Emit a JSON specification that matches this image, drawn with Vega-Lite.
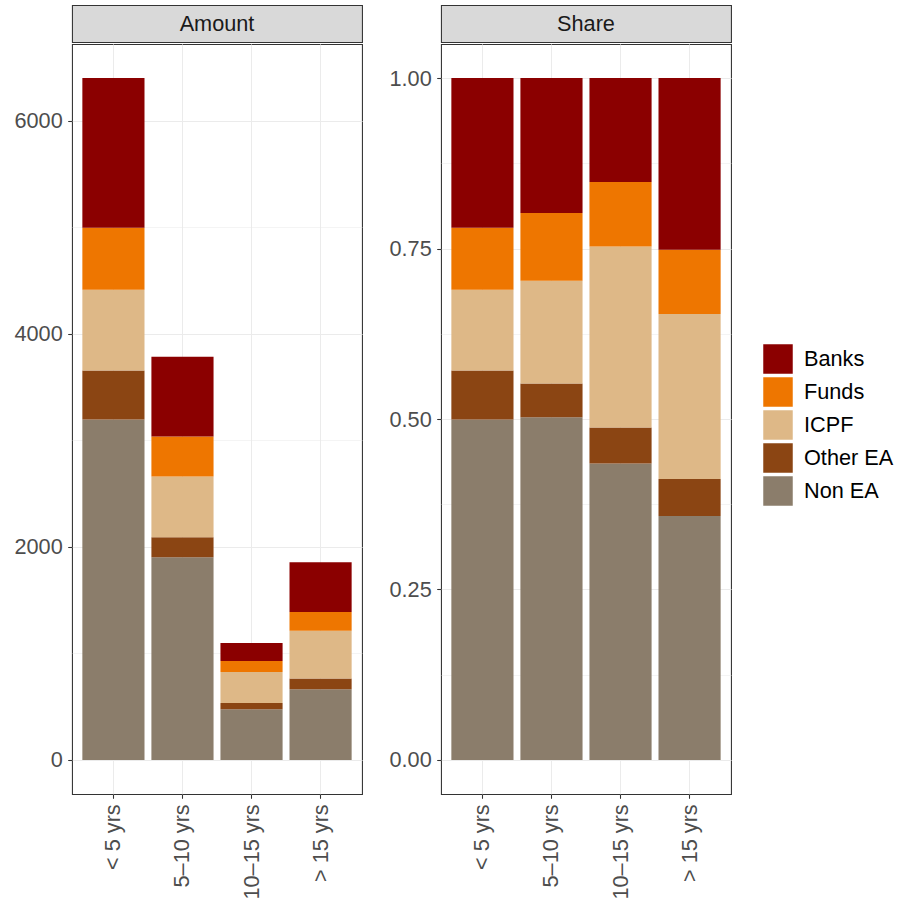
{
  "$schema": "https://vega.github.io/schema/vega-lite/v6.json",
  "padding": {"left": 13, "top": 4, "right": 5, "bottom": 5},
  "background": "white",
  "config": {
    "font": "Liberation Sans",
    "view": {"stroke": "#333333", "strokeWidth": 1.07},
    "axis": {
      "domain": false,
      "tickColor": "#333333",
      "tickSize": 4.3,
      "tickWidth": 1.07,
      "labelColor": "#4D4D4D",
      "labelFontSize": 21.7,
      "labelPadding": 5.5,
      "gridColor": "#EBEBEB",
      "labelOverlap": false
    },
    "legend": {
      "labelFontSize": 21.7,
      "labelColor": "#000000",
      "labelLimit": 300
    }
  },
  "data": {
    "values": [
      {"maturity": "< 5 yrs", "holder": "Non EA", "amount": 3197},
      {"maturity": "< 5 yrs", "holder": "Other EA", "amount": 459},
      {"maturity": "< 5 yrs", "holder": "ICPF", "amount": 760},
      {"maturity": "< 5 yrs", "holder": "Funds", "amount": 581},
      {"maturity": "< 5 yrs", "holder": "Banks", "amount": 1406},
      {"maturity": "5–10 yrs", "holder": "Non EA", "amount": 1903},
      {"maturity": "5–10 yrs", "holder": "Other EA", "amount": 188},
      {"maturity": "5–10 yrs", "holder": "ICPF", "amount": 571},
      {"maturity": "5–10 yrs", "holder": "Funds", "amount": 375},
      {"maturity": "5–10 yrs", "holder": "Banks", "amount": 750},
      {"maturity": "10–15 yrs", "holder": "Non EA", "amount": 477},
      {"maturity": "10–15 yrs", "holder": "Other EA", "amount": 58},
      {"maturity": "10–15 yrs", "holder": "ICPF", "amount": 291},
      {"maturity": "10–15 yrs", "holder": "Funds", "amount": 104},
      {"maturity": "10–15 yrs", "holder": "Banks", "amount": 167},
      {"maturity": "> 15 yrs", "holder": "Non EA", "amount": 664},
      {"maturity": "> 15 yrs", "holder": "Other EA", "amount": 101},
      {"maturity": "> 15 yrs", "holder": "ICPF", "amount": 449},
      {"maturity": "> 15 yrs", "holder": "Funds", "amount": 175},
      {"maturity": "> 15 yrs", "holder": "Banks", "amount": 467}
    ]
  },
  "spacing": 25,
  "hconcat": [
    {
      "spacing": 0,
      "vconcat": [
        {
          "data": {"values": [{"panel": "Amount"}]},
          "width": 290,
          "height": 37,
          "view": {"fill": "#D9D9D9", "stroke": "#333333", "strokeWidth": 1.07},
          "mark": {"type": "text", "fontSize": 21.7, "color": "#1A1A1A"},
          "encoding": {"text": {"field": "panel"}}
        },
        {
          "width": 290,
          "height": 750,
          "transform": [
            {"calculate": "indexof(['Non EA', 'Other EA', 'ICPF', 'Funds', 'Banks'], datum.holder)", "as": "stackorder"}
          ],
          "mark": {"type": "bar"},
          "encoding": {
            "x": {
              "field": "maturity", "type": "nominal",
              "sort": ["< 5 yrs", "5–10 yrs", "10–15 yrs", "> 15 yrs"],
              "scale": {"paddingInner": 0.1, "paddingOuter": 0.15},
              "axis": {"title": null, "labelAngle": -90, "labelAlign": "right", "labelBaseline": "middle", "grid": true, "gridWidth": 1.07}
            },
            "y": {
              "field": "amount", "type": "quantitative",
              "scale": {"domain": [-320, 6723], "nice": false, "zero": false},
              "axis": {
                "title": null,
                "values": [0, 1000, 2000, 3000, 4000, 5000, 6000],
                "format": "d",
                "labelExpr": "datum.value % 2000 === 0 ? datum.label : ''",
                "gridWidth": {"condition": {"test": "datum.value % 2000 === 0", "value": 1.07}, "value": 0.53},
                "tickOpacity": {"condition": {"test": "datum.value % 2000 === 0", "value": 1}, "value": 0}
              }
            },
            "order": {"field": "stackorder", "type": "quantitative", "sort": "ascending"},
            "color": {
              "field": "holder", "type": "nominal",
              "sort": ["Banks", "Funds", "ICPF", "Other EA", "Non EA"],
              "scale": {"range": ["#8B0000", "#EE7600", "#DEB887", "#8B4513", "#8B7D6B"]},
              "legend": {
                "title": null,
                "orient": "none",
                "legendX": 691,
                "legendY": 339,
                "symbolType": "square",
                "symbolSize": 870,
                "symbolStrokeWidth": 0,
                "symbolOpacity": 1,
                "rowPadding": 3,
                "labelOffset": 11
              }
            }
          }
        }
      ]
    },
    {
      "spacing": 0,
      "vconcat": [
        {
          "data": {"values": [{"panel": "Share"}]},
          "width": 290,
          "height": 37,
          "view": {"fill": "#D9D9D9", "stroke": "#333333", "strokeWidth": 1.07},
          "mark": {"type": "text", "fontSize": 21.7, "color": "#1A1A1A"},
          "encoding": {"text": {"field": "panel"}}
        },
        {
          "width": 290,
          "height": 750,
          "transform": [
            {"calculate": "indexof(['Non EA', 'Other EA', 'ICPF', 'Funds', 'Banks'], datum.holder)", "as": "stackorder"}
          ],
          "mark": {"type": "bar"},
          "encoding": {
            "x": {
              "field": "maturity", "type": "nominal",
              "sort": ["< 5 yrs", "5–10 yrs", "10–15 yrs", "> 15 yrs"],
              "scale": {"paddingInner": 0.1, "paddingOuter": 0.15},
              "axis": {"title": null, "labelAngle": -90, "labelAlign": "right", "labelBaseline": "middle", "grid": true, "gridWidth": 1.07}
            },
            "y": {
              "field": "amount", "type": "quantitative",
              "stack": "normalize",
              "scale": {"domain": [-0.05, 1.05], "nice": false, "zero": false},
              "axis": {
                "title": null,
                "values": [0, 0.125, 0.25, 0.375, 0.5, 0.625, 0.75, 0.875, 1],
                "labelExpr": "(datum.value * 4) % 1 === 0 ? format(datum.value, '.2f') : ''",
                "gridWidth": {"condition": {"test": "(datum.value * 4) % 1 === 0", "value": 1.07}, "value": 0.53},
                "tickOpacity": {"condition": {"test": "(datum.value * 4) % 1 === 0", "value": 1}, "value": 0}
              }
            },
            "order": {"field": "stackorder", "type": "quantitative", "sort": "ascending"},
            "color": {
              "field": "holder", "type": "nominal",
              "sort": ["Banks", "Funds", "ICPF", "Other EA", "Non EA"]
            }
          }
        }
      ]
    }
  ]
}
